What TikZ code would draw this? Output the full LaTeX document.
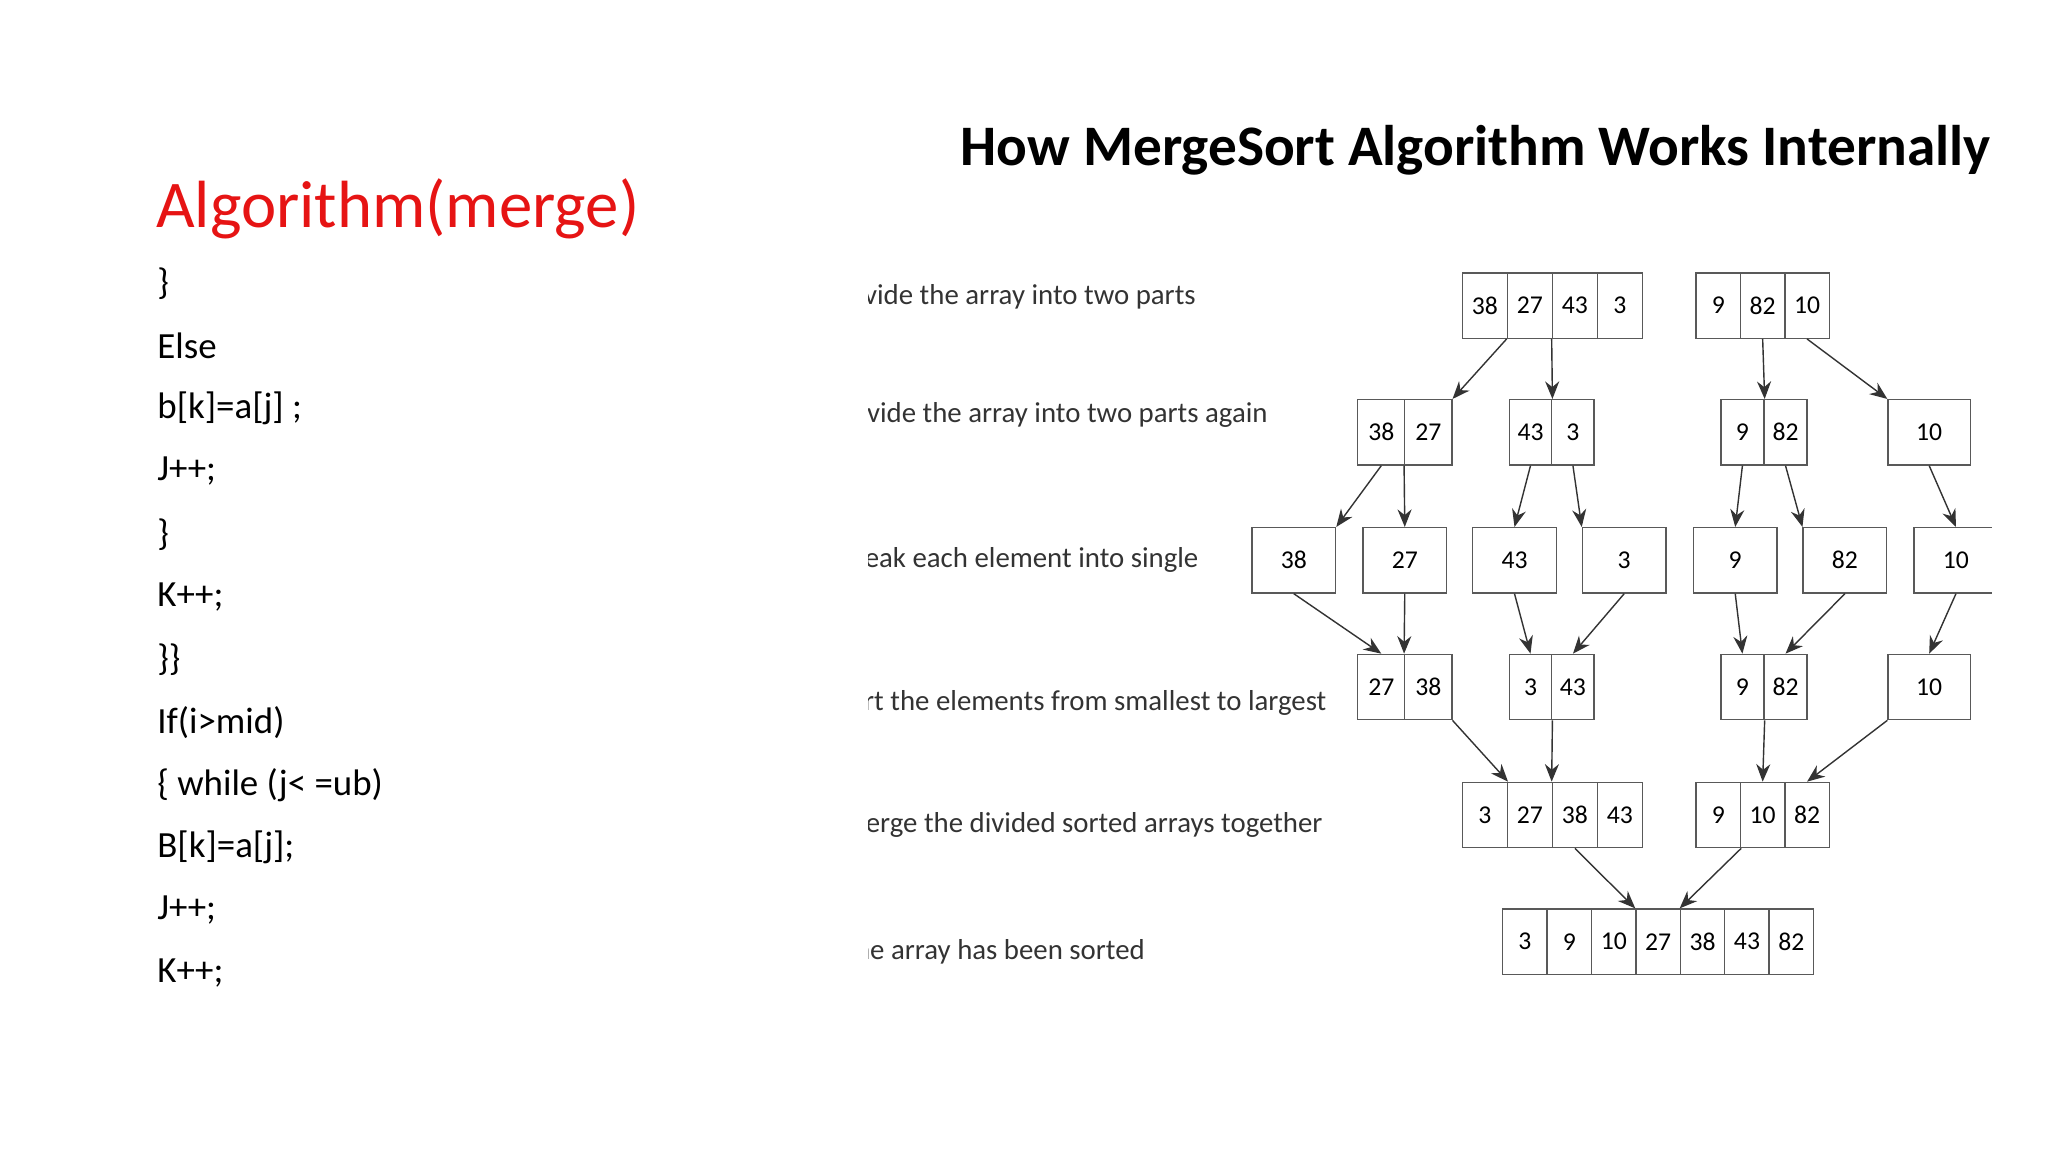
\documentclass[tikz,border=0pt]{standalone}
\usepackage{fontspec}
\setmainfont{Carlito}
\usetikzlibrary{arrows.meta}

\newcommand\px{0.01306cm}
% one row of cells: name, left x, centre y, cell width, values
\newcommand\cells[5]{%
    \foreach \v [count=\i] in {#5} {
        \node[cell, minimum width=#4*\px, anchor=west] (#1-\i) at ({#2+(\i-1)*#4},#3) {\v};
    }
}

\begin{document}
\begin{tikzpicture}[x=0.01306cm, y=-0.01306cm,
    cell/.style={draw=black!65, minimum height=50*\px, inner sep=0pt, font=\fontsize{7.3}{9}\selectfont},
    flow/.style={draw=black!80, thin, -{Stealth[length=5pt, width=4pt]}},
    code/.style={anchor=west, font=\fontsize{10.5}{12}\selectfont},
    step label/.style={anchor=east, font=\fontsize{8.2}{9}\selectfont, text=black!80}]
    \useasboundingbox (0,0) rectangle (1568,882);

    %% code on the left
    \node[anchor=west, text={rgb,255:red,230;green,20;blue,20}, font=\fontsize{19}{22}\selectfont] (head) at (110,160) {Algorithm(merge)};
    \foreach \t [count=\i] in {\},Else,{b[k]=a[j] ;},J++;,\},K++;,\}\},If(i>mid),{\{ while (j< =ub)},{B[k]=a[j];},J++;,K++;} {
        \node[code] (line\i) at (111,{169+48*\i}) {\t};
    }

    %% picture on the right
    \begin{scope}
        \clip (665,80) rectangle (1525,800);
        \node[anchor=west, font=\fontsize{16.3}{18}\bfseries] (title) at (726,115) {How MergeSort Algorithm Works Internally};

        \node[step label] (s1) at (925,227) {Divide the array into two parts};
        \node[step label] (s2) at (980,318) {Divide the array into two parts again};
        \node[step label] (s3) at (927,429) {Break each element into single};
        \node[step label] (s4) at (1025,538) {Sort the elements from smallest to largest};
        \node[step label] (s5) at (1022,632) {Merge the divided sorted arrays together};
        \node[step label] (s6) at (886,729) {The array has been sorted};

        \cells{A}{1119}{234}{34.5}{38,27,43,3}
        \cells{D}{1298}{234}{34}{9,82,10}
        \cells{B}{1039}{331}{36}{38,27}
        \cells{C}{1155}{331}{32.5}{43,3}
        \cells{E}{1317}{331}{33}{9,82}
        \cells{F}{1445}{331}{63}{10}
        \foreach \v/\x [count=\i] in {38/958,27/1043,43/1127,3/1211,9/1296,82/1380,10/1465} {
            \node[cell, minimum width=64*\px, anchor=west] (S\i) at (\x,429) {\v};
        }
        \cells{G}{1039}{526}{36}{27,38}
        \cells{H}{1155}{526}{32.5}{3,43}
        \cells{I}{1317}{526}{33}{9,82}
        \cells{J}{1445}{526}{63}{10}
        \cells{K}{1119}{624}{34.5}{3,27,38,43}
        \cells{L}{1298}{624}{34}{9,10,82}
        \cells{M}{1150}{721}{34}{3,9,10,27,38,43,82}

        % split
        \draw[flow] (A-2.south west) -- (B-2.north east);
        \draw[flow] (A-3.south west) -- (C-1.north east);
        \draw[flow] (D-2.south) -- (E-1.north east);
        \draw[flow] (D-3.south) -- (F-1.north west);
        \draw[flow] (B-1.south) -- (S1.north east);
        \draw[flow] (B-2.south west) -- (S2.north);
        \draw[flow] (C-1.south) -- (S3.north);
        \draw[flow] (C-2.south) -- (S4.north west);
        \draw[flow] (E-1.south) -- (S5.north);
        \draw[flow] (E-2.south) -- (S6.north west);
        \draw[flow] (F-1.south) -- (S7.north);
        % merge
        \draw[flow] (S1.south) -- (G-1.north);
        \draw[flow] (S2.south) -- (G-2.north west);
        \draw[flow] (S3.south) -- (H-1.north);
        \draw[flow] (S4.south) -- (H-2.north);
        \draw[flow] (S5.south) -- (I-1.north);
        \draw[flow] (S6.south) -- (I-2.north);
        \draw[flow] (S7.south) -- (J-1.north);
        \draw[flow] (G-2.south east) -- (K-1.north east);
        \draw[flow] (H-1.south east) -- (K-3.north west);
        \draw[flow] (I-1.south east) -- (L-2.north);
        \draw[flow] (J-1.south west) -- (L-3.north);
        \draw[flow] (K-3.south) -- (M-4.north west);
        \draw[flow] (L-1.south east) -- (M-5.north west);
    \end{scope}
\end{tikzpicture}
\end{document}
